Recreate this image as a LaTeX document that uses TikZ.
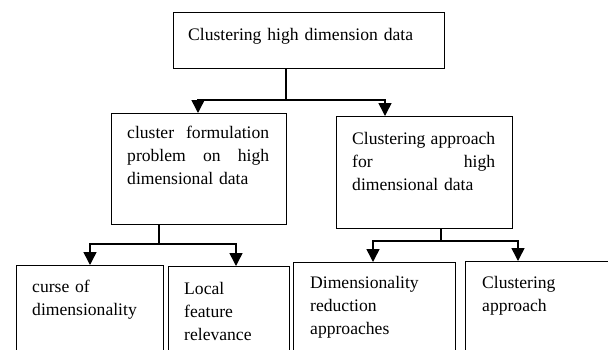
\documentclass[tikz,border=0pt]{standalone}
\usepackage{fontspec}
\setmainfont{Liberation Serif}
\usetikzlibrary{arrows.meta}
\begin{document}
\begin{tikzpicture}[x=1pt,y=-1pt,
  box/.style={draw, line width=0.8pt, inner sep=0pt, outer sep=0pt, anchor=north west},
  txt/.style={anchor=base west, inner sep=0pt, align=left, text width=120pt, font=\fontsize{17.6}{23.4}\selectfont},
  conn/.style={line width=1.5pt},
  arr/.style={conn, -{Triangle[length=13pt,width=13pt]}}]
\useasboundingbox (0,0) rectangle (608,349);
\clip (0,0) rectangle (608,349);

% root box
\node[box, minimum width=271pt, minimum height=56pt] (top) at (173,12) {};
\node[txt, text width=240pt] (ttop) at (188,40) {Clustering high dimension data};

% second level
\node[box, minimum width=175pt, minimum height=111pt] (b2) at (111,113) {};
\node[txt, text width=142pt] (tb2) at (127,138)
  {cluster\hfill formulation\\ problem\hfill on\hfill high\\ dimensional data};

\node[box, minimum width=176pt, minimum height=112pt] (b3) at (336,116) {};
\node[txt, text width=143pt] (tb3) at (352,144)
  {Clustering\hfill approach\\ for\hfill high\\ dimensional data};

% third level (boxes run past the lower edge)
\node[box, minimum width=147pt, minimum height=100pt] (c1) at (16,265) {};
\node[txt] (tc1) at (32,292) {curse of\\ dimensionality};

\node[box, minimum width=121pt, minimum height=100pt] (c2) at (168,266) {};
\node[txt, text width=100pt] (tc2) at (184,294) {Local\\ feature\\ relevance};

\node[box, minimum width=162pt, minimum height=100pt] (c3) at (293,262) {};
\node[txt, text width=140pt] (tc3) at (310,288) {Dimensionality\\ reduction\\ approaches};

\node[box, minimum width=160pt, minimum height=100pt] (c4) at (465,261) {};
\node[txt] (tc4) at (482,288) {Clustering\\ approach};

% connectors from the root
\coordinate (j0) at (286,100);
\coordinate (l0) at (198,100);
\coordinate (r0) at (385,100);
\draw[arr] (j0 |- top.south) -- (j0) -- (l0) -- (l0 |- b2.north);
\draw[arr] (j0) -- (r0) -- (r0 |- b3.north);

% connectors below the left branch
\coordinate (j1) at (159,244);
\coordinate (l1) at (90,244);
\coordinate (r1) at (236,244);
\draw[arr] (j1 |- b2.south) -- (j1) -- (l1) -- (l1 |- c1.north);
\draw[arr] (j1) -- (r1) -- (r1 |- c2.north);

% connectors below the right branch
\coordinate (j2) at (441,241);
\coordinate (l2) at (373,241);
\coordinate (r2) at (518,241);
\draw[arr] (j2 |- b3.south) -- (j2) -- (l2) -- (l2 |- c3.north);
\draw[arr] (j2) -- (r2) -- (r2 |- c4.north);
\end{tikzpicture}
\end{document}
